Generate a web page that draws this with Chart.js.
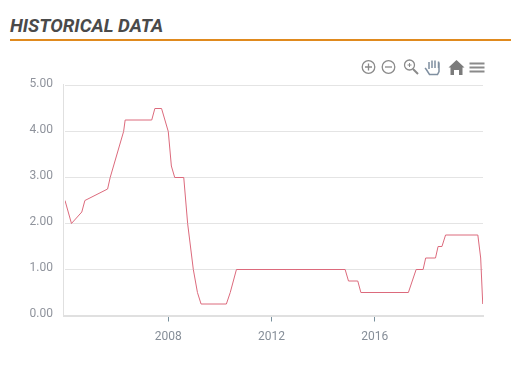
<!DOCTYPE html>
<html>
<head>
<meta charset="utf-8">
<title>Historical data</title>
<script src="https://cdn.jsdelivr.net/npm/chart.js@4/dist/chart.umd.min.js"></script>
<style>
  html, body { margin: 0; padding: 0; background: #fff; width: 511px; height: 366px; overflow: hidden; }
  h2 { position: absolute; left: 10px; top: 14px; margin: 0; font: italic 700 18.7px/24px Roboto, sans-serif; color: #4a4a4a; }
  .rule { position: absolute; left: 10px; right: 0; top: 39px; height: 2px; background: #e08a1e; }
  #wrap { position: absolute; left: 0; top: 0; width: 511px; height: 366px; }
  #tools { position: absolute; left: 358px; top: 57px; width: 130px; height: 20px; }
</style>
</head>
<body>
<h2>HISTORICAL DATA</h2>
<div class="rule"></div>
<div id="wrap"><canvas id="myChart" width="511" height="366"></canvas></div>

<svg id="tools" viewBox="0 0 130 20" fill="none" stroke="#8a8a8a" stroke-width="1.3">
  <circle cx="10.5" cy="10" r="6.3"/><path d="M7 10h7M10.5 6.5v7"/>
  <circle cx="30.5" cy="10" r="6.3"/><path d="M27 10h7"/>
  <circle cx="51.5" cy="8" r="5"/><path d="M55 12l5 5" stroke-width="2"/><path d="M49.500 8h4M51.500 6v4" stroke-width="1"/>
  <path d="M68 12l3.500 5.500h8l1.500-3v-9M71 12V5M74 11V3.500M77 11V3.500M80.500 11V4.500M68 12l-1-1" stroke="#7f8fa0" stroke-width="1.500"/>
  <path d="M90.500 10.500L98.500 3l8 7.500h-2V18h-3.500v-5h-5v5h-3.500v-7.500z" fill="#7b7b7b" stroke="none"/>
  <path d="M111.500 6.500h15M111.500 10.500h15M111.500 14.500h15" stroke-width="2"/>
</svg>

<script>
const years = [2004, 2004.25, 2004.65, 2004.77, 2005.65, 2005.75, 2006.27, 2006.33, 2007.36, 2007.48, 2007.74, 2008, 2008.12, 2008.25, 2008.6, 2008.75, 2008.97, 2009.13, 2009.27, 2010.25, 2010.4, 2010.64, 2014.85, 2014.98, 2015.34, 2015.46, 2017.3, 2017.6, 2017.87, 2017.97, 2018.35, 2018.45, 2018.6, 2018.74, 2019.99, 2020.1, 2020.18];
const rates = [2.5, 2, 2.25, 2.5, 2.75, 3, 4, 4.25, 4.25, 4.5, 4.5, 4, 3.25, 3, 3, 2, 1, 0.5, 0.25, 0.25, 0.5, 1, 1, 0.75, 0.75, 0.5, 0.5, 1, 1, 1.25, 1.25, 1.5, 1.5, 1.75, 1.75, 1.25, 0.25];
const xTicks = [2008, 2012, 2016];
const yMax = 5;

// y axis line sits a bit left of the plot, like the original
const yLine = {
  id: 'yLine',
  afterDraw(chart) {
    const ctx = chart.ctx, y = chart.scales.y;
    ctx.save();
    ctx.strokeStyle = '#e0e0e0';
    ctx.lineWidth = 1;
    ctx.beginPath();
    ctx.moveTo(chart.chartArea.left - 1.5, y.top - 1.5);
    ctx.lineTo(chart.chartArea.left - 1.5, y.bottom + 1.5);
    ctx.stroke();
    ctx.restore();
  }
};

new Chart(document.getElementById('myChart'), {
  type: 'line',
  data: {
    datasets: [{
      data: years.map((yr, i) => ({ x: yr, y: rates[i] })),
      borderColor: '#dc6a7c',
      borderWidth: 1,
      pointRadius: 0,
      tension: 0
    }]
  },
  options: {
    responsive: false,
    animation: false,
    layout: { padding: { left: 0, right: 28, top: 85.5, bottom: 0 } },
    plugins: { legend: { display: false }, tooltip: { enabled: false } },
    scales: {
      x: {
        type: 'linear',
        min: 2004,
        max: 2020.19,
        afterBuildTicks(axis) { axis.ticks = xTicks.map(v => ({ value: v })); },
        afterFit(axis) { axis.height = 50.5; },
        grid: { drawOnChartArea: false, drawTicks: true, tickLength: 6, tickColor: '#78909c' },
        border: { color: '#e0e0e0', width: 2 },
        ticks: {
          color: '#868e98',
          font: { family: 'Roboto', size: 12 },
          padding: 8,
          maxRotation: 0,
          callback: v => String(v)
        }
      },
      y: {
        min: 0,
        max: yMax,
        afterFit(axis) { axis.width = 65; },
        grid: { color: '#e4e4e4', drawTicks: false, lineWidth: 1 },
        border: { display: false },
        ticks: {
          stepSize: 1,
          color: '#8f939c',
          font: { family: 'Roboto', size: 12 },
          padding: 12,
          labelOffset: -2,
          callback: v => v.toFixed(2)
        }
      }
    }
  },
  plugins: [yLine]
});
</script>
</body>
</html>
